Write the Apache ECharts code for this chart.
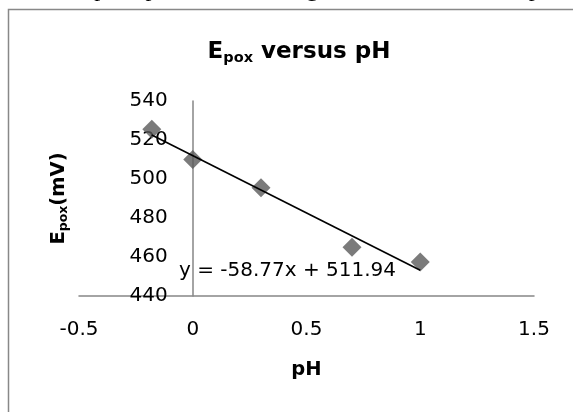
<!DOCTYPE html>
<html>
<head>
<meta charset="utf-8">
<style>
html,body{margin:0;padding:0;background:#fff;}
#c{width:573px;height:412px;}
</style>
<script src="https://cdn.jsdelivr.net/npm/echarts@6/dist/echarts.min.js"></script>
</head>
<body>
<div id="c"></div>
<script>
// Data
const phValues = [-0.18, 0, 0.3, 0.7, 1];
const epoxValues = [525.5, 510, 495.5, 465, 457.5];
const xTicks = [-0.5, 0, 0.5, 1, 1.5];
const yTicks = [440, 460, 480, 500, 520, 540];
const trendSlope = -58.77;
const trendIntercept = 511.94;
const equationText = 'y = -58.77x + 511.94';
const topText = 'oxidative peak potentials shifting at a rate of 58.77mV/pH';

const xMinData = Math.min(...phValues), xMaxData = Math.max(...phValues);
const trendData = [xMinData, xMaxData].map(x => [x, trendSlope * x + trendIntercept]);

const chart = echarts.init(document.getElementById('c'), null, {renderer: 'canvas'});
const FONT = 'DejaVu Sans';
const axisGray = '#868686';
const gridLeft = 79, gridRight = 39;
// y axis crosses the x axis at pH 0: shift it there
const plotWidth = 573 - gridLeft - gridRight;
const yAxisShift = -plotWidth * (0 - xTicks[0]) / (xTicks[xTicks.length - 1] - xTicks[0]);

chart.setOption({
  animation: false,
  backgroundColor: '#fff',
  title: {
    text: '{b|E}{s|pox}{b| versus pH}',
    left: 294,
    top: 32,
    textAlign: 'center',
    textStyle: {
      rich: {
        b: {fontFamily: FONT, fontWeight: 'bold', fontSize: 23, color: '#000', lineHeight: 30},
        s: {fontFamily: FONT, fontWeight: 'bold', fontSize: 14.5, color: '#000', padding: [12, 0, 0, 0], lineHeight: 30}
      }
    }
  },
  grid: {left: gridLeft, right: gridRight, top: 101, bottom: 116, containLabel: false, outerBoundsMode: 'none'},
  xAxis: {
    type: 'value',
    min: xTicks[0], max: xTicks[xTicks.length - 1], interval: 0.5,
    axisLine: {show: true, onZero: false, lineStyle: {color: axisGray, width: 1.5}},
    axisTick: {show: false},
    splitLine: {show: false},
    axisLabel: {fontFamily: FONT, fontSize: 20, color: '#000', margin: 24,
      formatter: v => String(v)},
    name: 'pH',
    nameLocation: 'middle',
    nameGap: 64,
    nameTextStyle: {fontFamily: FONT, fontWeight: 'bold', fontSize: 19.5, color: '#000'}
  },
  yAxis: {
    type: 'value',
    min: yTicks[0], max: yTicks[yTicks.length - 1], interval: 20,
    offset: yAxisShift,
    axisLine: {show: true, onZero: false, lineStyle: {color: axisGray, width: 1.5}},
    axisTick: {show: false},
    splitLine: {show: false},
    axisLabel: {fontFamily: FONT, fontSize: 20, color: '#000', margin: 25},
    name: '{b|E}{s|pox}{b|(mV)}',
    nameLocation: 'middle',
    nameGap: 121,
    nameRotate: 90,
    nameTextStyle: {
      rich: {
        b: {fontFamily: FONT, fontWeight: 'bold', fontSize: 19.5, color: '#000', lineHeight: 26},
        s: {fontFamily: FONT, fontWeight: 'bold', fontSize: 12.5, color: '#000', padding: [10, 0, 0, 0], lineHeight: 26}
      }
    }
  },
  series: [
    {
      type: 'line',
      data: trendData,
      symbol: 'none',
      lineStyle: {color: '#000', width: 1.6},
      z: 3
    },
    {
      type: 'scatter',
      data: phValues.map((x, i) => [x, epoxValues[i]]),
      symbol: 'diamond',
      symbolSize: [19, 19],
      itemStyle: {color: '#5a5a5a'},
      z: 2
    }
  ],
  graphic: [
    {
      type: 'rect',
      shape: {x: 8.5, y: 9.5, width: 700, height: 600},
      style: {fill: 'none', stroke: '#888', lineWidth: 1.5},
      silent: true, z: -1
    },
    {
      type: 'text',
      left: -1, top: -22,
      style: {text: topText, font: '24px "Liberation Serif"', fill: '#000'},
      silent: true
    },
    {
      type: 'text',
      left: 179, top: 261,
      style: {text: equationText, font: '20px "DejaVu Sans"', fill: '#000'},
      silent: true, z: 10
    }
  ]
});
</script>
</body>
</html>
